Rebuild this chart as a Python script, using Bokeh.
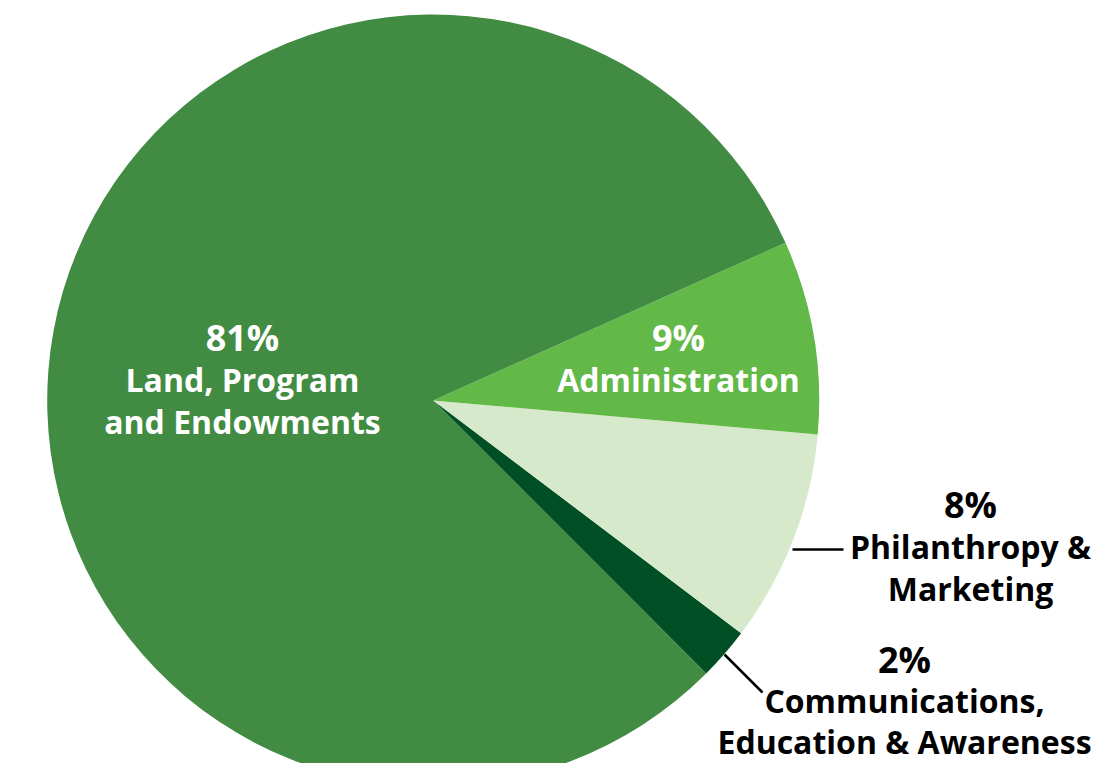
import numpy as np
from bokeh.plotting import figure
from bokeh.models import Range1d, ColumnDataSource
from bokeh.core.properties import value
from bokeh.embed import file_html
from bokeh.resources import INLINE

# ---- data (anticlockwise order starting from the lower-right wedge) ----
categories = ["Communications, Education & Awareness", "Philanthropy & Marketing",
              "Administration", "Land, Program and Endowments"]
shares = [2.2, 8.9, 8.1, 80.8]            # proportions
pct_labels = ["2%", "8%", "9%", "81%"]
name_lines = [["Communications,", "Education & Awareness"],
              ["Philanthropy &", "Marketing"],
              ["Administration"],
              ["Land, Program", "and Endowments"]]
colors = ["#014F25", "#D6E9CA", "#63B948", "#428B43"]

# ---- layout (reference pixels -> data units 1:1) ----
W, H = 1092, 763
def py(y):  # reference y (top-down) -> data y
    return H - y

cx, cy, R = 432.7, py(400), 386
start0 = np.deg2rad(-45.0)

vals = np.array(shares, dtype=float)
ang = vals / vals.sum() * 2 * np.pi
ends = start0 + np.cumsum(ang)
starts = ends - ang

src = ColumnDataSource(dict(start=starts, end=ends, color=colors, cat=categories))

p = figure(width=W, height=H, output_backend="svg", toolbar_location=None,
           x_range=Range1d(0, W), y_range=Range1d(0, H),
           min_border=0, outline_line_color=None)
p.axis.visible = False
p.grid.visible = False
p.background_fill_color = "white"
p.border_fill_color = "white"

p.wedge(x=cx, y=cy, radius=R, start_angle="start", end_angle="end",
        fill_color="color", line_color=None, source=src)

# leader lines
p.line(x=[792, 843], y=[py(549), py(549)], line_color="black", line_width=2.5)
p.line(x=[724, 762], y=[py(654), py(692)], line_color="black", line_width=2.5)

# label anchors (reference px): centre x, baseline of percentage line, line gap
label_pos = [(904, 671, 41), (970, 516, 42), (678, 349, 42), (242, 349, 42)]
text_col = ["black", "black", "white", "white"]
DY = 12   # renderer baseline correction
FONT = value("Open Sans")

for (lx, ly, gap), pct, lines, tc in zip(label_pos, pct_labels, name_lines, text_col):
    p.text(x=[lx], y=[py(ly - DY)], text=[pct], text_font=FONT, text_font_size="36px",
           text_font_style="bold", text_align="center", text_baseline="alphabetic",
           text_color=tc)
    for i, ln in enumerate(lines):
        p.text(x=[lx], y=[py(ly - DY + gap * (i + 1))], text=[ln], text_font=FONT,
               text_font_size="32px", text_font_style="bold", text_align="center",
               text_baseline="alphabetic", text_color=tc)

open("out.html", "w").write(file_html(p, INLINE))
